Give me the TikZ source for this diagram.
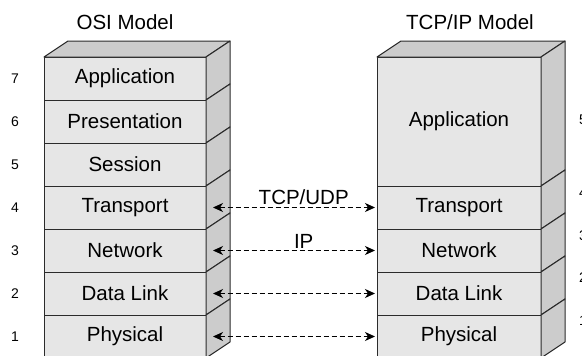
\documentclass[tikz,border=0pt]{standalone}
\usepackage{fontspec}
\setmainfont{Liberation Sans}
\usepackage{tikz}
\usetikzlibrary{positioning}
\usetikzlibrary{calc}
\usetikzlibrary{arrows.meta}

\definecolor{frontgray}{HTML}{E6E6E6}
\definecolor{sidegray}{HTML}{CCCCCC}
\definecolor{edgegray}{HTML}{2B2B2B}

\tikzset{
  layer/.style={draw=edgegray, fill=frontgray, line width=1pt, inner sep=0pt, outer sep=0pt,
    minimum width=162pt, minimum height=43pt, font=\fontsize{20.5}{24}\selectfont},
  side/.style={draw=edgegray, fill=sidegray, line width=1pt, line join=round},
  num/.style={font=\fontsize{14}{16}\selectfont},
  title/.style={font=\fontsize{20.5}{24}\selectfont},
  link/.style={dash pattern=on 5pt off 3pt, line width=1pt, {Stealth[length=10pt,width=9pt,inset=3pt]}-{Stealth[length=10pt,width=9pt,inset=3pt]}}
}

\begin{document}
\begin{tikzpicture}[x=1pt, y=-1pt]
\useasboundingbox (0,0) rectangle (582,356);
\clip (0,0) rectangle (582,356);

% OSI stack
\node [layer] (osi7) at (125,78.5) {Application};
\node [layer, below=0pt of osi7] (osi6) {Presentation};
\node [layer, below=0pt of osi6] (osi5) {Session};
\node [layer, below=0pt of osi5] (osi4) {Transport};
\node [layer, below=0pt of osi4] (osi3) {Network};
\node [layer, below=0pt of osi3] (osi2) {Data Link};
\node [layer, below=0pt of osi2] (osi1) {Physical};

% TCP/IP stack
\node [layer, minimum width=164pt, minimum height=129pt] (tcp5) at (459,121.5) {Application};
\node [layer, minimum width=164pt, below=0pt of tcp5] (tcp4) {Transport};
\node [layer, minimum width=164pt, below=0pt of tcp4] (tcp3) {Network};
\node [layer, minimum width=164pt, below=0pt of tcp3] (tcp2) {Data Link};
\node [layer, minimum width=164pt, below=0pt of tcp2] (tcp1) {Physical};

% tops and sides
\draw [side] (osi7.north west) -- ++(24,-16) -- ($(osi7.north east)+(24,-16)$) -- (osi7.north east) -- cycle;
\draw [side] (tcp5.north west) -- ++(24,-16) -- ($(tcp5.north east)+(24,-16)$) -- (tcp5.north east) -- cycle;
\foreach \n in {osi7,osi6,osi5,osi4,osi3,osi2,osi1,tcp5,tcp4,tcp3,tcp2,tcp1}
  \draw [side] (\n.north east) -- ++(24,-16) -- ($(\n.south east)+(24,-16)$) -- (\n.south east) -- cycle;

% titles
\node [title] (osititle) at (125,22) {OSI Model};
\node [title] (tcptitle) at (470,22) {TCP/IP Model};

% layer numbers
\node [num] (n7) at (15,78.5) {7};
\node [num] (n6) at (15,122) {6};
\node [num] (n5) at (15,165) {5};
\node [num] (n4) at (15,208) {4};
\node [num] (n3) at (15,251) {3};
\node [num] (n2) at (15,294) {2};
\node [num] (n1) at (15,337) {1};
\node [num] (m5) at (583,120) {5};
\node [num] (m4) at (583,193) {4};
\node [num] (m3) at (583,236) {3};
\node [num] (m2) at (583,278) {2};
\node [num] (m1) at (583,321) {1};

% peer links
\draw [link] ([xshift=7pt]osi4.east) -- ([xshift=-2pt]tcp4.west |- osi4.east) node [title, above, pos=0.56, inner sep=2pt] {TCP/UDP};
\draw [link] ([xshift=7pt]osi3.east) -- ([xshift=-2pt]tcp3.west |- osi3.east) node [title, above, pos=0.56, inner sep=2pt] {IP};
\draw [link] ([xshift=7pt]osi2.east) -- ([xshift=-2pt]tcp2.west |- osi2.east);
\draw [link] ([xshift=7pt]osi1.east) -- ([xshift=-2pt]tcp1.west |- osi1.east);
\end{tikzpicture}
\end{document}
